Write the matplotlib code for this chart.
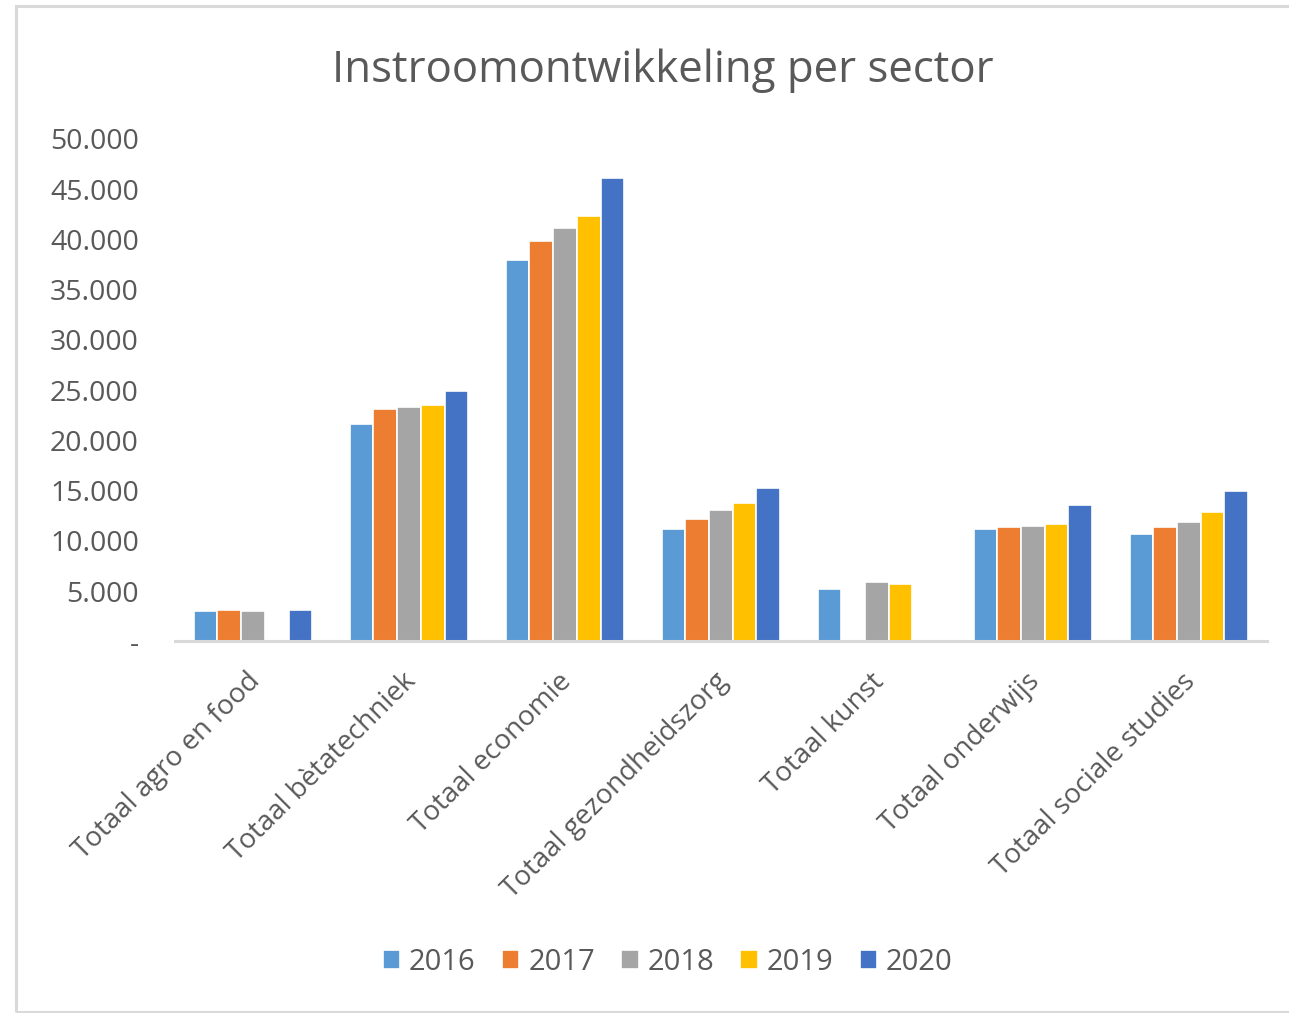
import numpy as np
import matplotlib.pyplot as plt
from matplotlib.ticker import FuncFormatter
from matplotlib.patches import Rectangle

plt.rcParams['font.family'] = ['Open Sans', 'DejaVu Sans']

# Data
sectors = ['Totaal agro en food', 'Totaal bètatechniek', 'Totaal economie',
           'Totaal gezondheidszorg', 'Totaal kunst', 'Totaal onderwijs',
           'Totaal sociale studies']
years = ['2016', '2017', '2018', '2019', '2020']
colors = ['#5b9bd5', '#ed7d31', '#a5a5a5', '#ffc000', '#4472c4']

v2016 = [2980, 21600, 38000, 11200, 5230, 11200, 10700]
v2017 = [3140, 23150, 39800, 12200, np.nan, 11350, 11350]
v2018 = [2980, 23300, 41100, 13100, 5890, 11500, 11900]
v2019 = [np.nan, 23500, 42300, 13750, 5720, 11700, 12900]
v2020 = [3140, 24900, 46100, 15300, np.nan, 13600, 14950]
values = [v2016, v2017, v2018, v2019, v2020]

fig = plt.figure(figsize=(12.89, 10.13), dpi=100)
ax = fig.add_axes([0.1358, 0.367, 0.847, 0.4958])

x = np.arange(len(sectors))
width = 0.152
for i, (yr, vals, c) in enumerate(zip(years, values, colors)):
    ax.bar(x + (i - 2) * width, vals, width, color=c, edgecolor='white',
           linewidth=1.2, label=yr)

ax.set_xlim(-0.5, len(sectors) - 0.5)
ax.set_ylim(0, 50000)
ax.set_yticks(range(0, 50001, 5000))


def fmt(v, pos):
    if v == 0:
        return '-'
    return f'{int(v):,}'.replace(',', '.')


ax.yaxis.set_major_formatter(FuncFormatter(fmt))
ax.tick_params(axis='y', length=0, pad=26, labelsize=20.5, labelcolor='#595959')
ax.tick_params(axis='x', length=0, pad=19)
ax.set_xticks(x - 0.045)
ax.set_xticklabels(sectors, rotation=45, ha='right', va='top',
                   rotation_mode='anchor', fontsize=20, color='#595959')

for s in ['top', 'right', 'left']:
    ax.spines[s].set_visible(False)
ax.spines['bottom'].set_color('#d9d9d9')
ax.spines['bottom'].set_linewidth(2.2)

fig.text(0.514, 0.930, 'Instroomontwikkeling per sector', ha='center',
         va='center', fontsize=31.5, color='#595959')

fig.legend(loc='center', bbox_to_anchor=(0.518, 0.050), ncol=5, frameon=False,
           fontsize=21, labelcolor='#595959', handlelength=0.6,
           handleheight=0.6, handletextpad=0.3, columnspacing=0.9)

# outer chart border (open on the right, as in the cropped screenshot)
fig.patches.append(Rectangle((0.0121, 0.0012), 1.2, 0.9924, transform=fig.transFigure,
                             fill=False, edgecolor='#d9d9d9', linewidth=2.2))

fig.savefig('out.png', dpi=100)
